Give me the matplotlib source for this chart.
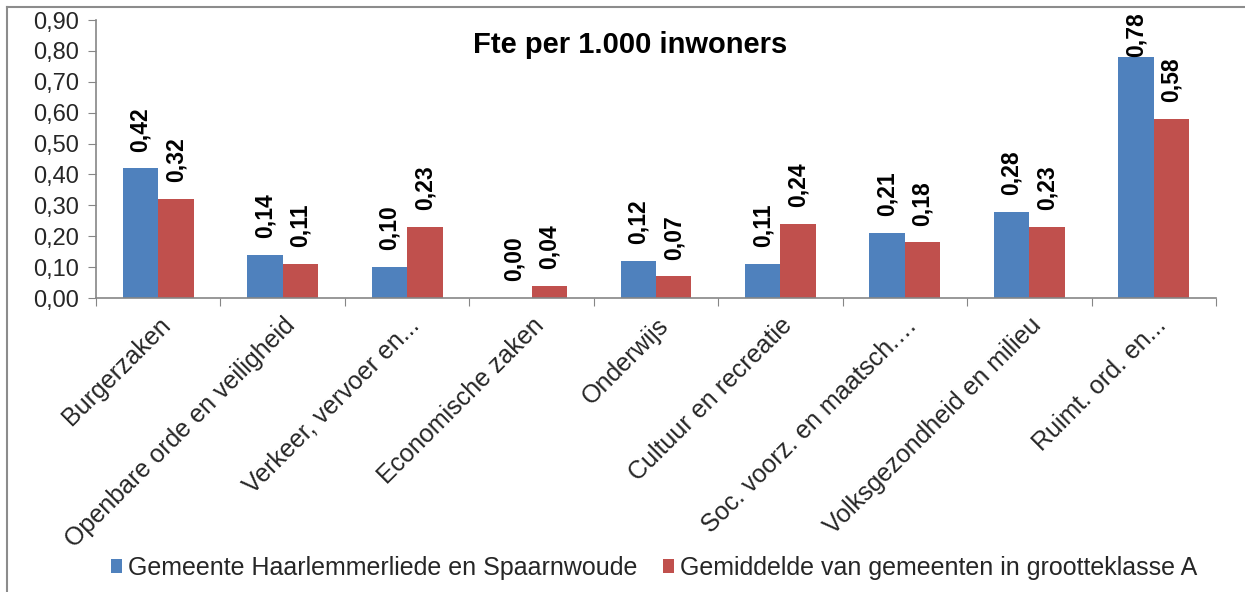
import matplotlib.pyplot as plt
from matplotlib.lines import Line2D
import numpy as np

plt.rcParams['font.family'] = ['Liberation Sans', 'DejaVu Sans']

# categorieen en waarden (Fte per 1.000 inwoners)
categories = [
    "Burgerzaken",
    "Openbare orde en veiligheid",
    "Verkeer, vervoer en...",
    "Economische zaken",
    "Onderwijs",
    "Cultuur en recreatie",
    "Soc. voorz. en maatsch.…",
    "Volksgezondheid en milieu",
    "Ruimt. ord. en...",
]
gemeente = [0.42, 0.14, 0.10, 0.00, 0.12, 0.11, 0.21, 0.28, 0.78]
gemiddelde = [0.32, 0.11, 0.23, 0.04, 0.07, 0.24, 0.18, 0.23, 0.58]
series_names = ["Gemeente Haarlemmerliede en Spaarnwoude",
                "Gemiddelde van gemeenten in grootteklasse A"]
yticks = [0.0, 0.1, 0.2, 0.3, 0.4, 0.5, 0.6, 0.7, 0.8, 0.9]

blue = "#4F81BD"
red = "#C0504D"
axis_col = "#868686"
text_col = "#262626"

W, H = 1245, 592
fig = plt.figure(figsize=(W / 100, H / 100), dpi=100)
ax = fig.add_axes([96 / W, 1 - 298 / H, 1120 / W, 278 / H])

x = np.arange(len(categories))
w = 0.285
b1 = ax.bar(x - w / 2, gemeente, w, color=blue, label=series_names[0])
b2 = ax.bar(x + w / 2, gemiddelde, w, color=red, label=series_names[1])

ax.set_xlim(-0.5, len(categories) - 0.5)
ax.set_ylim(0, 0.9)

# waardelabels, verticaal; bovenaan tegen de rand geschoven als het niet past
label_len = 52  # pixels
for bars, vals in [(b1, gemeente), (b2, gemiddelde)]:
    for rect, v in zip(bars, vals):
        cx = rect.get_x() + rect.get_width() / 2
        px, top_px = ax.transData.transform((cx, v))
        txt = f"{v:.2f}".replace(".", ",")
        if top_px + 17 + label_len > H - 12:
            fig.text(px / W, 1 - 12 / H, txt,
                     rotation=90, ha="center", va="top",
                     fontsize=16.5, fontweight="bold", color="black")
        else:
            ax.annotate(txt, (cx, v), xytext=(0, 12),
                        textcoords="offset points",
                        rotation=90, ha="center", va="bottom",
                        fontsize=16.5, fontweight="bold", color="black",
                        annotation_clip=False)

ax.set_yticks(yticks)
ax.set_yticklabels([f"{t:.2f}".replace(".", ",") for t in yticks],
                   fontsize=17, color=text_col)

# tickmarks op de grenzen tussen categorieen, labels in het midden
ax.set_xticks(np.arange(-0.5, len(categories), 1.0))
ax.set_xticklabels([])
ax.set_xticks(x, minor=True)
ax.set_xticklabels(categories, minor=True, rotation=45, ha="right",
                   rotation_mode="anchor", fontsize=18, color=text_col)
ax.tick_params(axis="x", which="minor", length=0, pad=11)
ax.tick_params(axis="x", which="major", length=6, color=axis_col)
ax.tick_params(axis="y", length=6, color=axis_col, pad=6)

for s in ["top", "right"]:
    ax.spines[s].set_visible(False)
for s in ["left", "bottom"]:
    ax.spines[s].set_color(axis_col)
    ax.spines[s].set_linewidth(1.2)

fig.text(630 / W, 1 - 45 / H, "Fte per 1.000 inwoners",
         ha="center", va="center", fontsize=21, fontweight="bold")

fig.legend(loc="center", bbox_to_anchor=(654 / W, 1 - 568 / H),
           ncol=2, frameon=False, fontsize=18, handlelength=0.45,
           handleheight=0.45, handletextpad=0.25, columnspacing=1.0,
           labelcolor=text_col)

# kader van de grafiek
fig.add_artist(Line2D([7 / W, 1], [1 - 7 / H, 1 - 7 / H],
                      transform=fig.transFigure, color="#8c8c8c", lw=1.5))
fig.add_artist(Line2D([7 / W, 7 / W], [0, 1 - 7 / H],
                      transform=fig.transFigure, color="#8c8c8c", lw=1.5))

fig.savefig("out.png", dpi=100)
